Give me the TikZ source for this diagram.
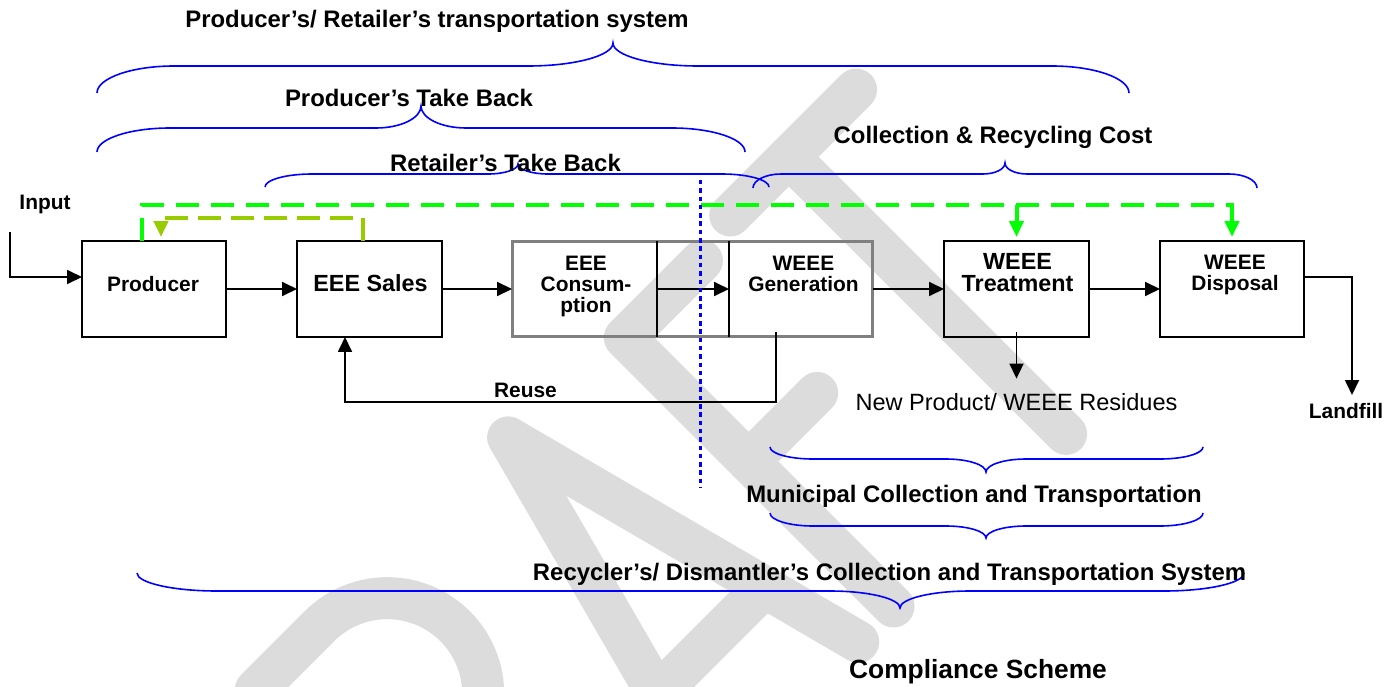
\documentclass[tikz,border=0pt]{standalone}
\usepackage{fontspec}
\setmainfont{Liberation Sans}
\usetikzlibrary{arrows.meta,calc}

\definecolor{braceblue}{RGB}{0,0,255}
\definecolor{flowgreen}{RGB}{0,255,0}
\definecolor{olivegreen}{RGB}{153,204,0}
\definecolor{framegray}{RGB}{128,128,128}
\definecolor{markgray}{RGB}{220,220,220}

% curly brace: x left, x right, x tip, y ends, y flat part, y tip, end curl width, middle curl width
\newcommand\wbrace[8]{%
  \draw[brace] (#1,#4)
    .. controls (#1,{#4+0.55*(#5-#4)}) and ({#1+0.45*#7},#5) .. ({#1+#7},#5)
    -- ({#3-#8},#5)
    .. controls ({#3-0.45*#8},#5) and (#3,{#5+0.45*(#6-#5)}) .. (#3,#6)
    .. controls (#3,{#5+0.45*(#6-#5)}) and ({#3+0.45*#8},#5) .. ({#3+#8},#5)
    -- ({#2-#7},#5)
    .. controls ({#2-0.45*#7},#5) and (#2,{#4+0.55*(#5-#4)}) .. (#2,#4);}

\tikzset{
  brace/.style={draw=braceblue, line width=0.032cm},
  box/.style={draw=black, line width=0.04cm, minimum width=2.88cm, minimum height=1.92cm, inner sep=0pt, outer sep=0pt},
  cell/.style={minimum width=2.88cm, minimum height=1.92cm, inner sep=0pt, outer sep=0pt},
  frame/.style={draw=framegray, line width=0.06cm, minimum width=7.22cm, minimum height=1.92cm, inner sep=0pt, outer sep=0pt},
  flow/.style={draw=black, line width=0.035cm, -{Triangle[length=0.3cm,width=0.28cm]}},
  gline/.style={draw=flowgreen, line width=0.08cm, dash pattern=on 0.46cm off 0.24cm, -{Triangle[length=0.32cm,width=0.28cm]}},
  yline/.style={draw=olivegreen, line width=0.08cm, dash pattern=on 0.46cm off 0.2cm, -{Triangle[length=0.32cm,width=0.28cm]}},
  divider/.style={draw=braceblue, line width=0.06cm, dash pattern=on 0.09cm off 0.076cm},
  lbl/.style={anchor=base, inner sep=0pt, font=\fontsize{13.6pt}{16pt}\selectfont\bfseries},
  lblsm/.style={anchor=base, inner sep=0pt, font=\fontsize{11.9pt}{14pt}\selectfont\bfseries},
  plain/.style={anchor=base, inner sep=0pt, font=\fontsize{13.4pt}{16pt}\selectfont},
  boxlbl/.style={anchor=base, align=center, inner sep=0pt, font=\fontsize{11.9pt}{11.9pt}\selectfont\bfseries},
  bigger/.style={font=\fontsize{13.3pt}{12.5pt}\selectfont\bfseries},
}

\begin{document}
\begin{tikzpicture}[x=0.02cm, y=-0.02cm]
\useasboundingbox (0,0) rectangle (1399,686);
\fill[white] (0,0) rectangle (1399,686);

% diagonal DRAFT watermark
\begin{scope}
  \clip (0,0) rectangle (1399,686);
  \begin{scope}[shift={(750,750)}, x={(0.014142cm,0.014142cm)}, y={(-0.014142cm,0.014142cm)},
      color=markgray, line width=0.84cm, line cap=round, line join=round]
    % D
    \draw (-560,0) -- (-560,392) -- (-480,392) .. controls (-400,392) and (-360,300) .. (-360,196)
          .. controls (-360,92) and (-400,0) .. (-480,0) -- cycle;
    % R
    \draw (-307,0) -- (-307,392) -- (-217,392) .. controls (-164,392) and (-121,349) .. (-121,296)
          .. controls (-121,243) and (-164,200) .. (-217,200) -- (-307,200);
    \draw (-230,200) -- (-130,0);
    % A
    \draw (-54,0) -- (50,392) -- (153,0);
    \draw (-26,105) -- (125,105);
    % F
    \draw (312,380) -- (203,380) -- (203,0);
    \draw (203,205) -- (300,205);
    % T
    \draw (364,392) -- (542,392);
    \draw (447,392) -- (447,0);
  \end{scope}
\end{scope}

% braces
\wbrace{97}{1129}{613}{93}{66}{43}{77}{85}
\wbrace{97}{745}{421}{152}{128}{106}{73}{45}
\wbrace{265}{769}{518}{187}{174}{164}{47}{30}
\wbrace{753}{1257}{1005}{188}{174}{163}{28}{22}
\wbrace{770}{1203}{986}{447}{459}{472}{43}{40}
\wbrace{770}{1203}{986}{513}{526}{538}{43}{40}
\wbrace{137}{1244}{900}{573}{591}{608}{80}{70}

% process boxes
\node[box] (producer) at (154,289) {};
\node[box, minimum width=2.9cm] (sales) at (369.5,289) {};
\node[frame] (lifecycle) at (692.5,289) {};
\node[cell, minimum width=2.9cm] (cons) at (584.5,289) {};
\node[cell] (gen) at (801,289) {};
\node[box, minimum width=2.9cm] (treat) at (1016.5,289) {};
\node[box] (disp) at (1232,289) {};
\draw[black, line width=0.04cm] (cons.north east) -- (cons.south east);
\draw[black, line width=0.04cm] (gen.north west) -- (gen.south west);

% helper points
\coordinate (inTop) at (10,232);
\coordinate (lfTip) at (1352,395);
\coordinate (reuseBus) at (600,402);
\coordinate (gbus) at (600,205);
\coordinate (ybus) at (260,218);
\coordinate (divTop) at (700,180);
\coordinate (divBot) at (700,488);

% labels
\node[lbl] (tTransport) at (437,28) {Producer’s/ Retailer’s transportation system};
\node[lbl] (tProdTB) at (409,107) {Producer’s Take Back};
\node[lbl] (tRetTB) at (505.5,172) {Retailer’s Take Back};
\node[lbl] (tCost) at (993,143) {Collection \& Recycling Cost};
\node[lblsm] (tInput) at (45,209) {Input};
\node[lblsm] (tReuse) at (525.5,397) {Reuse};
\node[lblsm] (landfill) at (1346,418) {Landfill};
\node[plain] (residues) at (1016.5,410) {New Product/ WEEE Residues};
\node[lbl] (tMunicipal) at (974,502) {Municipal Collection and Transportation};
\node[lbl] (tRecycler) at (889.5,580) {Recycler’s/ Dismantler’s Collection and Transportation System};
\node[lbl, font=\fontsize{15pt}{18pt}\selectfont\bfseries] (tCompliance) at (978,678) {Compliance Scheme};

% box captions (anchored on the baseline of their last line)
\node[boxlbl] (tProducer) at (153,291) {Producer};
\node[boxlbl, bigger] (tSales) at (370.5,291) {EEE Sales};
\node[boxlbl] (tCons) at (586,312) {EEE\\Consum-\\ption};
\node[boxlbl] (tGen) at (803.5,291) {WEEE\\Generation};
\node[boxlbl, bigger] (tTreat) at (1017.5,291) {WEEE\\Treatment};
\node[boxlbl] (tDisp) at (1235,290) {WEEE\\Disposal};

% material flow
\draw[flow] (inTop) |- ([yshift=0.24cm]producer.west);
\draw[flow] (producer.east) -- (sales.west);
\draw[flow] (sales.east) -- (lifecycle.west);
\draw[flow] (cons.east) -- (gen.west);
\draw[flow] (lifecycle.east) -- (treat.west);
\draw[flow] (treat.east) -- (disp.west);
\draw[flow] ([yshift=0.24cm]disp.east) -| (lfTip);
\draw[flow, shorten >=0.28cm] ([yshift=0.1cm]treat.south) -- (residues.north);
\draw[flow] ([xshift=-0.5cm,yshift=0.1cm]gen.south) |- (reuseBus) -| ([xshift=-0.49cm]sales.south);

% take-back flows
\draw[yline] ([xshift=-0.13cm]sales.north) |- (ybus) -| ([xshift=0.14cm,yshift=0.08cm]producer.north);
\draw[gline] ([xshift=-0.24cm]producer.north) |- (gbus) -| ([yshift=0.08cm]disp.north);
\draw[gline] (treat.north |- gbus) -- ([yshift=0.08cm]treat.north);

% boundary between consumer and collection side
\draw[divider] (divTop) -- (divBot);
\end{tikzpicture}
\end{document}
